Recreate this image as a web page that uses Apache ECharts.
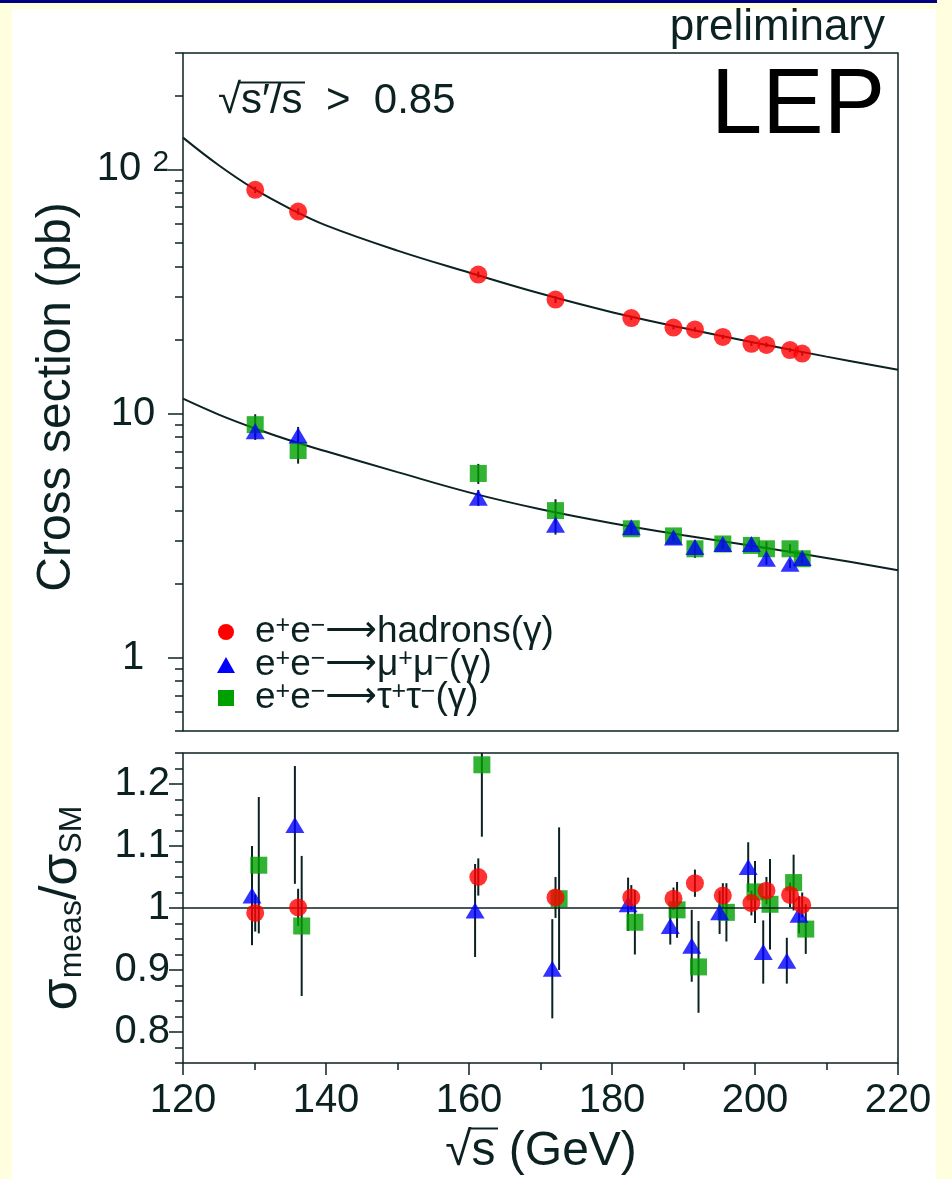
<!DOCTYPE html>
<html><head><meta charset="utf-8">
<script src="https://cdn.jsdelivr.net/npm/echarts@6/dist/echarts.min.js"></script>
<style>
html,body{margin:0;padding:0;background:#ffffe0;width:952px;height:1179px;overflow:hidden;}
#bar{position:absolute;left:0;top:0;width:937px;height:3px;background:#000080;}
#paper{position:absolute;left:12px;top:9px;width:924px;height:1170px;background:#ffffff;}
#c{position:absolute;left:0;top:0;width:952px;height:1179px;}
</style>
</head><body>
<div id="bar"></div><div id="paper"></div><div id="c"></div>
<script>
// ---- data ----
const sqrtS = [130.1, 136.1, 161.3, 172.1, 182.7, 188.6, 191.6, 195.5, 199.5, 201.6, 204.9, 206.6];
const xsHadrons = [82.5, 67.2, 37.1, 29.3, 24.6, 22.5, 22.1, 20.6, 19.3, 19.1, 18.2, 17.6];
const xsMuMu    = [8.46, 8.13, 4.52, 3.50, 3.42, 3.10, 2.84, 2.92, 2.92, 2.54, 2.42, 2.56];
const xsTauTau  = [9.00, 7.05, 5.68, 4.00, 3.37, 3.15, 2.79, 2.92, 2.88, 2.79, 2.79, 2.54];
const ratioHadrons = [0.992, 1.001, 1.050, 1.017, 1.017, 1.015, 1.040, 1.020, 1.008, 1.028, 1.021, 1.005];
const errHadrons   = [0.030, 0.030, 0.030, 0.033, 0.020, 0.018, 0.022, 0.020, 0.020, 0.022, 0.020, 0.020];
const ratioMuMu    = [1.020, 1.134, 0.996, 0.902, 1.006, 0.971, 0.939, 0.993, 1.066, 0.929, 0.915, 0.989];
const errMuMu      = [0.080, 0.095, 0.075, 0.080, 0.043, 0.030, 0.058, 0.035, 0.040, 0.051, 0.037, 0.030];
const ratioTauTau  = [1.069, 0.971, 1.231, 1.015, 0.977, 0.997, 0.905, 0.993, 1.026, 1.006, 1.041, 0.966];
const errTauTau    = [0.110, 0.113, 0.116, 0.115, 0.052, 0.045, 0.074, 0.047, 0.050, 0.073, 0.045, 0.040];
// Standard Model curves
const curveSqrtS = [120, 125, 130, 135, 140, 150, 160, 170, 180, 190, 200, 210, 220];
const smHadrons  = [135, 104, 83, 69, 59, 46.5, 37.8, 31, 26, 22.4, 19.5, 17.1, 15.1];
const smMuMu     = [11.5, 9.9, 8.7, 7.75, 7.0, 5.75, 4.75, 4.05, 3.55, 3.17, 2.86, 2.56, 2.28];
// horizontal displacement of points in the ratio panel (GeV)
const shiftMuMu = -0.45, shiftTauTau = 0.5;
// axis ticks
const xTicks = [120, 140, 160, 180, 200, 220];
const logMajor = [1, 10, 100];
const logMinor = [0.5, 0.6, 0.7, 0.8, 0.9, 2, 3, 4, 5, 6, 7, 8, 9, 20, 30, 40, 50, 60, 70, 80, 90, 200, 300];
const ratioMajor = [0.8, 0.9, 1, 1.1, 1.2];
const ratioMinor = [0.75, 0.775, 0.825, 0.85, 0.875, 0.925, 0.95, 0.975, 1.025, 1.05, 1.075, 1.125, 1.15, 1.175, 1.225, 1.25];

const dark = '#0c2222';
const FS = "'Liberation Sans',Arial,'DejaVu Sans',sans-serif";

const zip = (a, b) => a.map((v, i) => [v, b[i]]);
const errTop = (xs, r, e) => xs.map((v, i) => [sqrtS[i], v * (1 - e[i] / r[i]), v * (1 + e[i] / r[i])]);
const errLow = (r, e, s) => r.map((v, i) => [sqrtS[i] + s, v - e[i], v + e[i]]);

function errRender(params, api) {
  const x = api.value(0), lo = api.value(1), hi = api.value(2);
  const p1 = api.coord([x, lo]), p2 = api.coord([x, hi]);
  const cs = params.coordSys;
  const top = Math.max(Math.min(p1[1], p2[1]), cs.y);
  const bot = Math.min(Math.max(p1[1], p2[1]), cs.y + cs.height);
  return {type: 'line', shape: {x1: p1[0], y1: top, x2: p1[0], y2: bot},
          style: {stroke: dark, lineWidth: 2}};
}

const tickStyle = {color: dark, width: 1.5};
const legendRich = {n: {fontSize: 37, fontFamily: FS, fill: dark},
                    s: {fontSize: 25, fontFamily: FS, fill: dark, verticalAlign: 'top'},
                    ar: {fontSize: 36, fontFamily: "'DejaVu Sans',sans-serif", fill: dark}};
const chart = echarts.init(document.getElementById('c'), null, {renderer: 'canvas'});
const option = {
  backgroundColor: 'transparent',
  animation: false,
  grid: [
    {left: 183, top: 53, width: 715, height: 678, show: true, borderColor: dark, borderWidth: 1.5, backgroundColor: 'transparent'},
    {left: 183, top: 753, width: 715, height: 310, show: true, borderColor: dark, borderWidth: 1.5, backgroundColor: 'transparent'}
  ],
  xAxis: [
    {gridIndex: 0, type: 'value', min: 120, max: 220, axisLine: {show: false}, axisTick: {show: false},
     axisLabel: {show: false}, splitLine: {show: false}},
    {gridIndex: 1, type: 'value', min: 120, max: 220, interval: 20, axisLine: {show: false},
     axisTick: {show: true, inside: false, length: 12, lineStyle: tickStyle},
     minorTick: {show: true, splitNumber: 2, length: 7, lineStyle: tickStyle},
     axisLabel: {fontSize: 40, fontFamily: FS, color: dark, margin: 18, customValues: xTicks},
     splitLine: {show: false}}
  ],
  yAxis: [
    {gridIndex: 0, type: 'log', logBase: 10, min: 0.5, max: 300, position: 'left', axisLine: {show: false},
     axisTick: {show: true, inside: false, length: 15, customValues: logMajor, lineStyle: tickStyle},
     axisLabel: {customValues: logMajor, align: 'center', margin: 50,
       formatter: v => v >= 100 ? '{a|10 }{s|2}' : '{a|' + v + '}',
       rich: {a: {fontSize: 40, fontFamily: FS, color: dark},
              s: {fontSize: 30, fontFamily: FS, color: dark, verticalAlign: 'top', padding: [0, 0, 14, 0]}}},
     splitLine: {show: false}},
    {gridIndex: 0, type: 'log', logBase: 10, min: 0.5, max: 300, position: 'left', axisLine: {show: false},
     axisTick: {show: true, inside: false, length: 8, customValues: logMinor, lineStyle: tickStyle},
     axisLabel: {show: false}, splitLine: {show: false}},
    {gridIndex: 1, type: 'value', min: 0.75, max: 1.25, position: 'left', axisLine: {show: false},
     axisTick: {show: true, inside: false, length: 14, customValues: ratioMajor, lineStyle: tickStyle},
     axisLabel: {customValues: ratioMajor, margin: 13, fontSize: 40, fontFamily: FS, color: dark,
       formatter: v => Math.abs(v - 1) < 1e-9 ? '1' : v.toFixed(1)},
     splitLine: {show: false}},
    {gridIndex: 1, type: 'value', min: 0.75, max: 1.25, position: 'left', axisLine: {show: false},
     axisTick: {show: true, inside: false, length: 8, customValues: ratioMinor, lineStyle: tickStyle},
     axisLabel: {show: false}, splitLine: {show: false}}
  ],
  series: [
    {type: 'line', xAxisIndex: 0, yAxisIndex: 0, data: zip(curveSqrtS, smHadrons), smooth: 0.4,
     showSymbol: false, lineStyle: {color: dark, width: 2}, z: 2},
    {type: 'line', xAxisIndex: 0, yAxisIndex: 0, data: zip(curveSqrtS, smMuMu), smooth: 0.4,
     showSymbol: false, lineStyle: {color: dark, width: 2}, z: 2},
    {type: 'custom', xAxisIndex: 0, yAxisIndex: 0, renderItem: errRender, z: 3,
     data: errTop(xsHadrons, ratioHadrons, errHadrons).concat(errTop(xsMuMu, ratioMuMu, errMuMu), errTop(xsTauTau, ratioTauTau, errTauTau))},
    {name: 'tautau', type: 'scatter', xAxisIndex: 0, yAxisIndex: 0, data: zip(sqrtS, xsTauTau),
     symbol: 'rect', symbolSize: 17, itemStyle: {color: '#00a000'}, z: 4},
    {name: 'mumu', type: 'scatter', xAxisIndex: 0, yAxisIndex: 0, data: zip(sqrtS, xsMuMu),
     symbol: 'triangle', symbolSize: [19, 16], itemStyle: {color: '#0000ff'}, z: 5},
    {name: 'hadrons', type: 'scatter', xAxisIndex: 0, yAxisIndex: 0, data: zip(sqrtS, xsHadrons),
     symbol: 'circle', symbolSize: 18, itemStyle: {color: '#ff0000'}, z: 6},

    {type: 'custom', xAxisIndex: 1, yAxisIndex: 2, renderItem: errRender, z: 3,
     data: errLow(ratioHadrons, errHadrons, 0).concat(errLow(ratioMuMu, errMuMu, shiftMuMu), errLow(ratioTauTau, errTauTau, shiftTauTau))},
    {name: 'tautau', type: 'scatter', xAxisIndex: 1, yAxisIndex: 2,
     data: ratioTauTau.map((v, i) => [sqrtS[i] + shiftTauTau, v]),
     symbol: 'rect', symbolSize: 17, itemStyle: {color: '#00a000'}, z: 4},
    {name: 'mumu', type: 'scatter', xAxisIndex: 1, yAxisIndex: 2,
     data: ratioMuMu.map((v, i) => [sqrtS[i] + shiftMuMu, v]),
     symbol: 'triangle', symbolSize: [19, 16], itemStyle: {color: '#0000ff'}, z: 5},
    {name: 'hadrons', type: 'scatter', xAxisIndex: 1, yAxisIndex: 2, data: zip(sqrtS, ratioHadrons),
     symbol: 'circle', symbolSize: 18, itemStyle: {color: '#ff0000'}, z: 6,
     markLine: {silent: true, symbol: 'none', label: {show: false}, animation: false,
       lineStyle: {color: dark, width: 1.5, type: 'solid'}, data: [{yAxis: 1}]}}
  ],
  graphic: [
    {type: 'text', right: 67, top: 6, style: {text: 'preliminary', fontSize: 44, fontFamily: FS, fill: dark}},
    {type: 'text', right: 67, top: 62, style: {text: 'LEP', fontSize: 92, fontFamily: FS, fill: '#000'}},
    {type: 'text', left: 218, top: 80, style: {text: '√s′/s  >  0.85', fontSize: 42, fontFamily: FS, fill: dark}},
    {type: 'line', shape: {x1: 239, y1: 82.5, x2: 305, y2: 82.5}, style: {stroke: dark, lineWidth: 2}},
    {type: 'text', x: 57, y: 397, rotation: Math.PI / 2,
     style: {text: 'Cross section (pb)', fontSize: 48, fontFamily: FS, fill: dark, align: 'center', verticalAlign: 'middle'}},
    {type: 'text', x: 62, y: 908, rotation: Math.PI / 2,
     style: {text: '{b|σ}{u|meas}{b|/σ}{u|SM}', align: 'center', verticalAlign: 'middle', fill: dark,
       rich: {b: {fontSize: 52, fontFamily: FS, fill: dark, verticalAlign: 'top'},
              u: {fontSize: 32, fontFamily: FS, fill: dark, verticalAlign: 'bottom'}}}},
    {type: 'text', x: 541, y: 1152,
     style: {text: '√s (GeV)', fontSize: 48, fontFamily: FS, fill: dark, align: 'center', verticalAlign: 'middle'}},
    {type: 'line', shape: {x1: 471, y1: 1128.5, x2: 498, y2: 1128.5}, style: {stroke: dark, lineWidth: 2}},
    // legend
    {type: 'circle', shape: {cx: 226, cy: 632, r: 8}, style: {fill: '#ff0000'}},
    {type: 'polygon', shape: {points: [[226, 657], [217, 673], [235, 673]]}, style: {fill: '#0000ff'}},
    {type: 'rect', shape: {x: 218, y: 690, width: 16, height: 16}, style: {fill: '#00a000'}},
    {type: 'text', x: 255, y: 632, style: {text: '{n|e}{s|+}{n|e}{s|−}{ar|⟶}{n|hadrons(γ)}', verticalAlign: 'middle', rich: legendRich}},
    {type: 'text', x: 255, y: 665, style: {text: '{n|e}{s|+}{n|e}{s|−}{ar|⟶}{n|μ}{s|+}{n|μ}{s|−}{n|(γ)}', verticalAlign: 'middle', rich: legendRich}},
    {type: 'text', x: 255, y: 698, style: {text: '{n|e}{s|+}{n|e}{s|−}{ar|⟶}{n|τ}{s|+}{n|τ}{s|−}{n|(γ)}', verticalAlign: 'middle', rich: legendRich}}
  ]
};
chart.setOption(option);
</script>
</body></html>
